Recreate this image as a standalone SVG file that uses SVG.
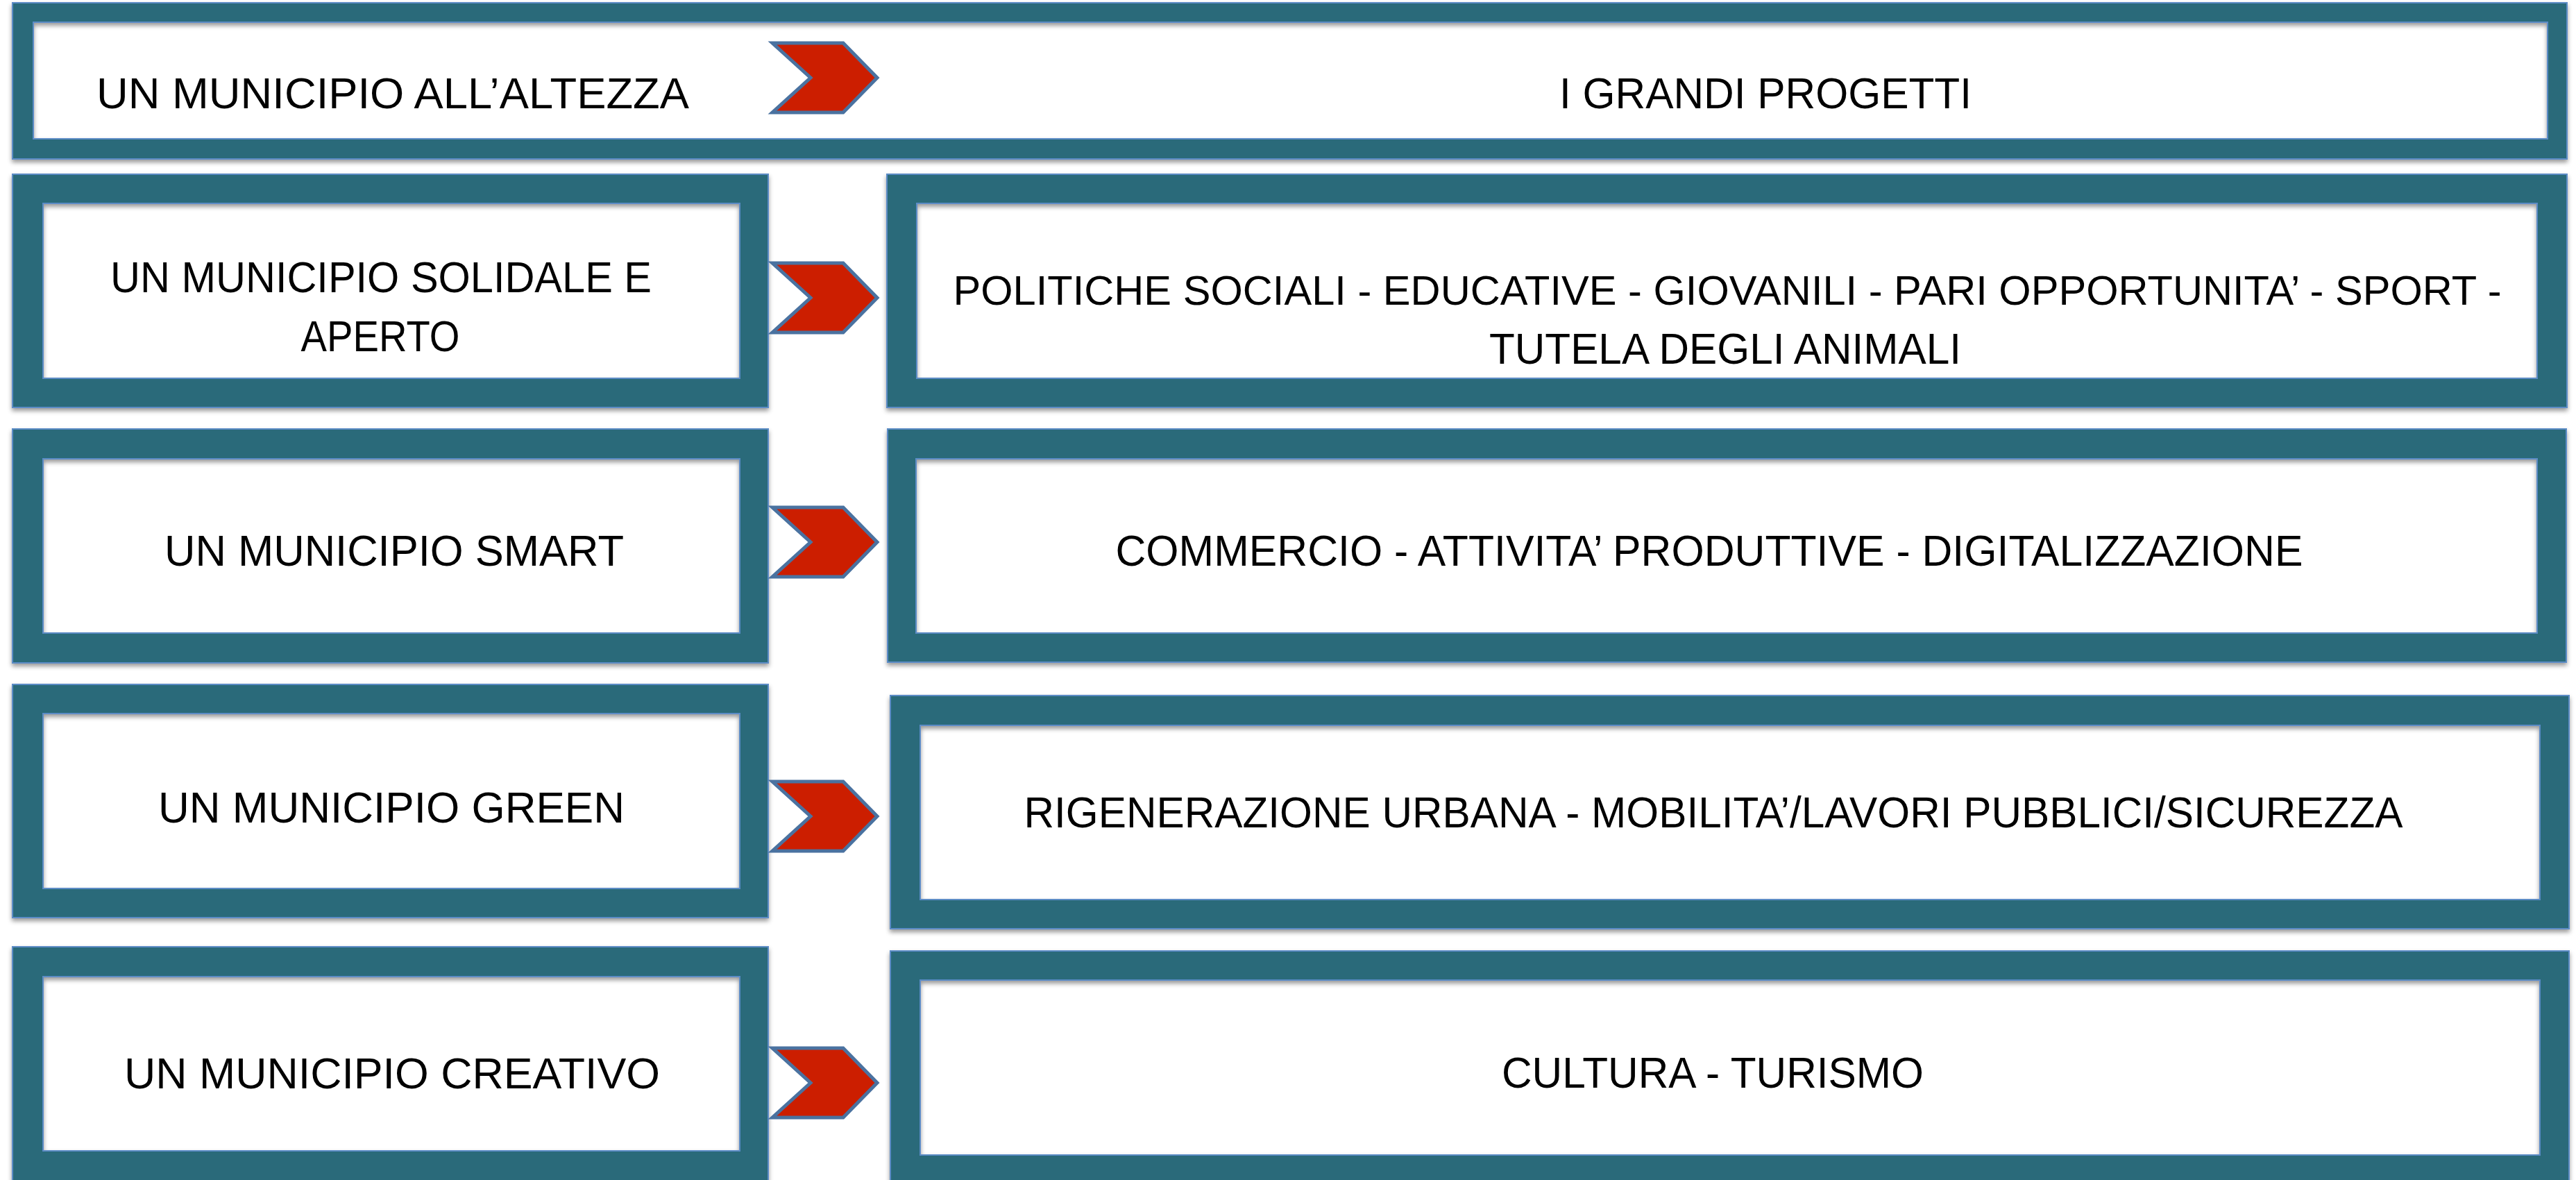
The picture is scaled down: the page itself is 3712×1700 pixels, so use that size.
<svg xmlns="http://www.w3.org/2000/svg" xmlns:xlink="http://www.w3.org/1999/xlink" width="3712" height="1700" viewBox="0 0 3712 1700">
  <style>
    .inner { fill: #ffffff; }
    .frame { fill: #2a6a7a; fill-rule: evenodd; stroke: #5b8cc6; stroke-width: 2; filter: url(#sh); }
    .chev { fill: #cc1e00; stroke: #4a72a0; stroke-width: 5; stroke-linejoin: miter; stroke-miterlimit: 10; }
    .t { font-family: "Liberation Sans", Arial, sans-serif; font-size: 63px; fill: #000000; text-anchor: middle; }
    .tl { font-size: 60px; }
  </style>
  <defs>
    <filter id="sh" x="-5%" y="-10%" width="110%" height="125%">
      <feGaussianBlur in="SourceAlpha" stdDeviation="3"/>
      <feOffset dx="0" dy="4" result="b"/>
      <feFlood flood-color="#000000" flood-opacity="0.4"/>
      <feComposite in2="b" operator="in" result="s"/>
      <feMerge>
        <feMergeNode in="s"/>
        <feMergeNode in="SourceGraphic"/>
      </feMerge>
    </filter>
    <polygon id="chev" class="chev" points="1113,-50 1215,-50 1264,0 1215,50 1113,50 1168,0"/>
  </defs>
  <rect x="0" y="0" width="3712" height="1700" fill="#ffffff"/>

  <g id="node-top">
    <rect class="inner" x="48" y="32" width="3623" height="168"/>
    <path class="frame" d="M18 4 H3699 V229 H18 Z M48 32 V200 H3671 V32 Z"/>
    <text class="t" x="566" y="156" textLength="854" lengthAdjust="spacingAndGlyphs">UN MUNICIPIO ALL’ALTEZZA</text>
    <text class="t" x="2544" y="156" textLength="594" lengthAdjust="spacingAndGlyphs">I GRANDI PROGETTI</text>
  </g>

  <g id="node-solidale">
    <rect class="inner" x="62" y="293" width="1004" height="252"/>
    <path class="frame" d="M18 251 H1107 V587 H18 Z M62 293 V545 H1066 V293 Z"/>
    <text class="t" x="549" y="421" textLength="780" lengthAdjust="spacingAndGlyphs">UN MUNICIPIO SOLIDALE E</text>
    <text class="t" x="548" y="506" textLength="229" lengthAdjust="spacingAndGlyphs">APERTO</text>
  </g>
  <g id="node-politiche">
    <rect class="inner" x="1321" y="293" width="2335" height="252"/>
    <path class="frame" d="M1278 251 H3699 V587 H1278 Z M1321 293 V545 H3656 V293 Z"/>
    <text class="t tl" x="2489" y="439" textLength="2231" lengthAdjust="spacingAndGlyphs">POLITICHE SOCIALI - EDUCATIVE - GIOVANILI - PARI OPPORTUNITA’ - SPORT -</text>
    <text class="t" x="2486" y="524" textLength="680" lengthAdjust="spacingAndGlyphs">TUTELA DEGLI ANIMALI</text>
  </g>

  <g id="node-smart">
    <rect class="inner" x="62" y="661" width="1004" height="251"/>
    <path class="frame" d="M18 618 H1107 V955 H18 Z M62 661 V912 H1066 V661 Z"/>
    <text class="t" x="568" y="815" textLength="662" lengthAdjust="spacingAndGlyphs">UN MUNICIPIO SMART</text>
  </g>
  <g id="node-commercio">
    <rect class="inner" x="1320" y="661" width="2336" height="251"/>
    <path class="frame" d="M1279 618 H3698 V954 H1279 Z M1320 661 V912 H3656 V661 Z"/>
    <text class="t" x="2463" y="815" textLength="1711" lengthAdjust="spacingAndGlyphs">COMMERCIO - ATTIVITA’ PRODUTTIVE - DIGITALIZZAZIONE</text>
  </g>

  <g id="node-green">
    <rect class="inner" x="62" y="1028" width="1004" height="252"/>
    <path class="frame" d="M18 986 H1107 V1322 H18 Z M62 1028 V1280 H1066 V1028 Z"/>
    <text class="t" x="564" y="1185" textLength="672" lengthAdjust="spacingAndGlyphs">UN MUNICIPIO GREEN</text>
  </g>
  <g id="node-rigenerazione">
    <rect class="inner" x="1326" y="1045" width="2334" height="251"/>
    <path class="frame" d="M1283 1002 H3702 V1338 H1283 Z M1326 1045 V1296 H3660 V1045 Z"/>
    <text class="t" x="2469" y="1192" textLength="1987" lengthAdjust="spacingAndGlyphs">RIGENERAZIONE URBANA - MOBILITA’/LAVORI PUBBLICI/SICUREZZA</text>
  </g>

  <g id="node-creativo">
    <rect class="inner" x="62" y="1407" width="1004" height="251"/>
    <path class="frame" d="M18 1364 H1107 V1702 H18 Z M62 1407 V1658 H1066 V1407 Z"/>
    <text class="t" x="565" y="1568" textLength="772" lengthAdjust="spacingAndGlyphs">UN MUNICIPIO CREATIVO</text>
  </g>
  <g id="node-cultura">
    <rect class="inner" x="1326" y="1412" width="2334" height="252"/>
    <path class="frame" d="M1283 1370 H3702 V1708 H1283 Z M1326 1412 V1664 H3660 V1412 Z"/>
    <text class="t" x="2468" y="1567" textLength="608" lengthAdjust="spacingAndGlyphs">CULTURA - TURISMO</text>
  </g>

  <g id="connectors">
    <use xlink:href="#chev" href="#chev" y="112"/>
    <use xlink:href="#chev" href="#chev" y="429"/>
    <use xlink:href="#chev" href="#chev" y="781"/>
    <use xlink:href="#chev" href="#chev" y="1176"/>
    <use xlink:href="#chev" href="#chev" y="1560"/>
  </g>
</svg>
